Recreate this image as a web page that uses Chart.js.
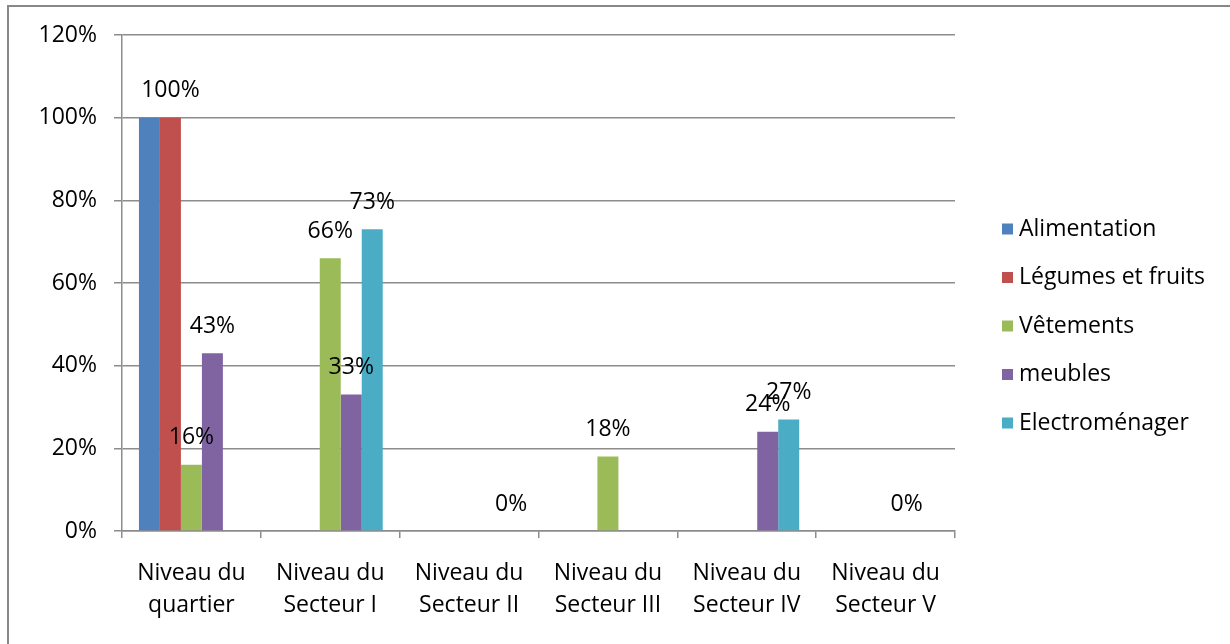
<!DOCTYPE html>
<html>
<head>
<meta charset="utf-8">
<title>Niveaux de fréquentation</title>
<script src="https://cdn.jsdelivr.net/npm/chart.js@4/dist/chart.umd.min.js"></script>
<style>
  html, body { margin: 0; padding: 0; background: #fff; overflow: hidden; }
  #wrap { width: 1230px; height: 644px; position: relative; }
</style>
</head>
<body>
<div id="wrap"><canvas id="levels"></canvas></div>
<script>
// Categories (two-line axis labels)
const levels = [
    ['Niveau du', 'quartier'],
    ['Niveau du', 'Secteur I'],
    ['Niveau du', 'Secteur II'],
    ['Niveau du', 'Secteur III'],
    ['Niveau du', 'Secteur IV'],
    ['Niveau du', 'Secteur V']
];

// Shares per level, null where no bar is drawn
const alimentation   = [1.00, null, null, null, null, null];
const legumesFruits  = [1.00, null, null, null, null, null];
const vetements      = [0.16, 0.66, null, 0.18, null, null];
const meubles        = [0.43, 0.33, null, null, 0.24, 0];
const electromenager = [null, 0.73, 0, null, 0.27, null];

const yTicks = [0, 0.2, 0.4, 0.6, 0.8, 1.0, 1.2];

const FONT = '"Open Sans", "DejaVu Sans", sans-serif';
const FS = 23;
const GRID = '#8c8c8c';

const pct = v => Math.round(v * 100) + '%';

// value labels above each bar
const valueLabels = {
    id: 'valueLabels',
    afterDatasetsDraw(chart) {
        const ctx = chart.ctx;
        ctx.save();
        ctx.font = FS + 'px ' + FONT;
        ctx.fillStyle = '#000';
        ctx.textAlign = 'center';
        ctx.textBaseline = 'middle';
        chart.data.datasets.forEach((ds, i) => {
            if (ds.hideValues) return;
            chart.getDatasetMeta(i).data.forEach((bar, j) => {
                const v = ds.data[j];
                if (v === null || v === undefined) return;
                ctx.fillText(pct(v), bar.x, bar.y - 27);
            });
        });
        ctx.restore();
    }
};

// frame + legend on the right
const frameLegend = {
    id: 'frameLegend',
    beforeDraw(chart) {
        const ctx = chart.ctx;
        ctx.save();
        ctx.strokeStyle = '#888';
        ctx.lineWidth = 2;
        ctx.strokeRect(8, 6, 1400, 800);
        ctx.restore();
    },
    afterDraw(chart) {
        const ctx = chart.ctx;
        ctx.save();
        ctx.font = FS + 'px ' + FONT;
        ctx.textAlign = 'left';
        ctx.textBaseline = 'middle';
        chart.data.datasets.forEach((ds, i) => {
            const y = 229 + i * 48.5;
            ctx.fillStyle = ds.backgroundColor;
            ctx.fillRect(1002, y - 5.5, 11, 11);
            ctx.fillStyle = '#000';
            ctx.fillText(ds.label, 1019, y);
        });
        ctx.restore();
    }
};

new Chart(document.getElementById('levels'), {
    type: 'bar',
    data: {
        labels: levels,
        datasets: [
            { label: 'Alimentation', data: alimentation, backgroundColor: '#4F81BD', hideValues: true },
            { label: 'Légumes et fruits', data: legumesFruits, backgroundColor: '#C0504D' },
            { label: 'Vêtements', data: vetements, backgroundColor: '#9BBB59' },
            { label: 'meubles', data: meubles, backgroundColor: '#8064A2' },
            { label: 'Electroménager', data: electromenager, backgroundColor: '#4BACC6' }
        ]
    },
    options: {
        responsive: true,
        maintainAspectRatio: false,
        animation: false,
        categoryPercentage: 0.756,
        barPercentage: 1,
        layout: { padding: { left: 8, right: 275, top: 35, bottom: 4 } },
        plugins: {
            legend: { display: false },
            tooltip: { enabled: false }
        },
        scales: {
            x: {
                grid: {
                    offset: true,
                    drawOnChartArea: false,
                    drawTicks: true,
                    tickLength: 7,
                    color: GRID,
                    lineWidth: 1.5
                },
                border: { color: GRID, width: 1.5 },
                ticks: {
                    color: '#000',
                    padding: 19,
                    maxRotation: 0,
                    autoSkip: false,
                    font: { family: FONT, size: FS, lineHeight: 32 / FS }
                }
            },
            y: {
                min: 0,
                max: 1.2,
                afterBuildTicks(scale) {
                    scale.ticks = yTicks.map(v => ({ value: v }));
                },
                afterFit(scale) { scale.width = 114; },
                grid: {
                    color: GRID,
                    lineWidth: 1.5,
                    drawTicks: true,
                    tickLength: 8
                },
                border: { color: GRID, width: 1.5 },
                ticks: {
                    color: '#000',
                    padding: 17,
                    callback: v => pct(v),
                    font: { family: FONT, size: FS }
                }
            }
        }
    },
    plugins: [valueLabels, frameLegend]
});
</script>
</body>
</html>
